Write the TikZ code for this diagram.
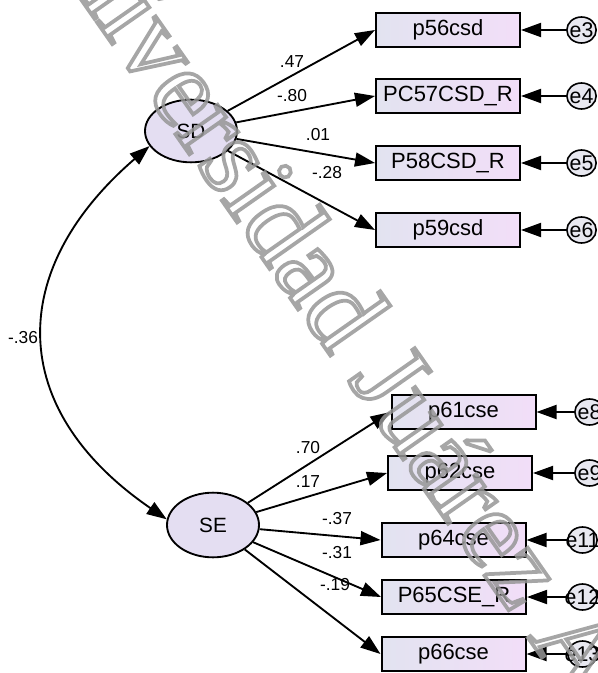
\documentclass[tikz,border=0pt]{standalone}
\usepackage{fontspec}
\setmainfont{Liberation Sans}
\newfontfamily\wmfont{Liberation Serif}
\usetikzlibrary{arrows.meta,shapes.geometric}

\definecolor{boxL}{RGB}{226,227,240}
\definecolor{boxR}{RGB}{242,222,248}
\definecolor{latfill}{RGB}{228,222,242}
\definecolor{errfill}{RGB}{232,232,240}
\definecolor{wmgray}{RGB}{150,150,150}

% error-term label that does not widen its circle
\newcommand{\errlab}[1]{\makebox[0pt]{#1}}

\begin{document}
\begin{tikzpicture}[x=0.75pt,y=-0.75pt,
  obs/.style={rectangle, draw=black, line width=1.5pt, inner sep=0pt,
    minimum width=108pt, minimum height=25.5pt,
    left color=boxL, right color=boxR,
    font=\fontsize{16.5}{16.5}\selectfont},
  lat/.style={ellipse, draw=black, line width=1.4pt, fill=latfill, inner sep=0pt,
    minimum width=69pt, minimum height=47pt,
    font=\fontsize{15.5}{15.5}\selectfont},
  err/.style={ellipse, draw=black, line width=1.2pt, fill=errfill, inner sep=0pt,
    minimum width=22pt, minimum height=19.5pt,
    font=\fontsize{16}{16}\selectfont},
  coef/.style={inner sep=0pt, font=\fontsize{13}{13}\selectfont},
  path/.style={line width=1.4pt, -{Triangle[length=15pt,width=10.5pt]}},
  cov/.style={line width=1.4pt, {Triangle[length=15pt,width=10.5pt]}-{Triangle[length=15pt,width=10.5pt]}}
]
\useasboundingbox (0,0) rectangle (598,673);

% latent factors
\node[lat] (SD) at (191,131) {SD};
\node[lat, minimum height=48.5pt] (SE) at (213,525) {SE};

% SD indicators
\node[obs] (p56) at (448,30)  {p56csd};
\node[obs] (p57) at (448,96)  {PC57CSD\_R};
\node[obs] (p58) at (448,163) {P58CSD\_R};
\node[obs] (p59) at (448,230) {p59csd};

% SE indicators
\node[obs] (p61) at (463.5,412) {p61cse};
\node[obs] (p62) at (460,473)   {p62cse};
\node[obs] (p64) at (453.5,540) {p64cse};
\node[obs] (p65) at (454,597)   {P65CSE\_R};
\node[obs] (p66) at (453.5,654) {p66cse};

% error terms
\node[err] (e3)  at (581.5,30)  {\errlab{e3}};
\node[err] (e4)  at (581.5,96)  {\errlab{e4}};
\node[err] (e5)  at (581.5,163) {\errlab{e5}};
\node[err] (e6)  at (581.5,230) {\errlab{e6}};
\node[err] (e8)  at (589.5,412) {\errlab{e8}};
\node[err] (e9)  at (589.5,473) {\errlab{e9}};
\node[err] (e11) at (582.5,540) {\errlab{e11}};
\node[err] (e12) at (582.5,597) {\errlab{e12}};
\node[err] (e13) at (582.5,654) {\errlab{e13}};

% loadings
\foreach \t in {p56,p57,p58,p59} \draw[path] (SD) -- (\t.west);
\foreach \t in {p61,p62,p64,p65,p66} \draw[path] (SE) -- (\t.west);

% residual paths
\foreach \e/\t in {e3/p56,e4/p57,e5/p58,e6/p59,e8/p61,e9/p62,e11/p64,e12/p65,e13/p66}
  \draw[path] (\e) -- (\t.east);

% factor covariance
\coordinate (c1) at (6,270);
\coordinate (c2) at (6,409);
\draw[cov] (SD.200) .. controls (c1) and (c2) .. (SE.173);

% estimates
\node[coef] (l56) at (292,62)  {.47};
\node[coef] (l57) at (292,96)  {-.80};
\node[coef] (l58) at (318,135) {.01};
\node[coef] (l59) at (327,173) {-.28};
\node[coef] (l61) at (308,448) {.70};
\node[coef] (l62) at (308,482) {.17};
\node[coef] (l64) at (337,519) {-.37};
\node[coef] (l65) at (337,553) {-.31};
\node[coef] (l66) at (335,585) {-.19};
\node[coef] (lcv) at (23,338)  {-.36};

% watermark, outlined letters
\node[anchor=base west, rotate=-55, inner sep=0pt, text=wmgray, opacity=0.85,
  font=\wmfont\fontsize{84}{84}\selectfont] (wm) at (17,-92)
  {\special{pdf:literal direct 1 Tr 2.8 w}Universidad Juárez Autónoma de Tabasco\special{pdf:literal direct 0 Tr 1 w}};
\end{tikzpicture}
\end{document}
